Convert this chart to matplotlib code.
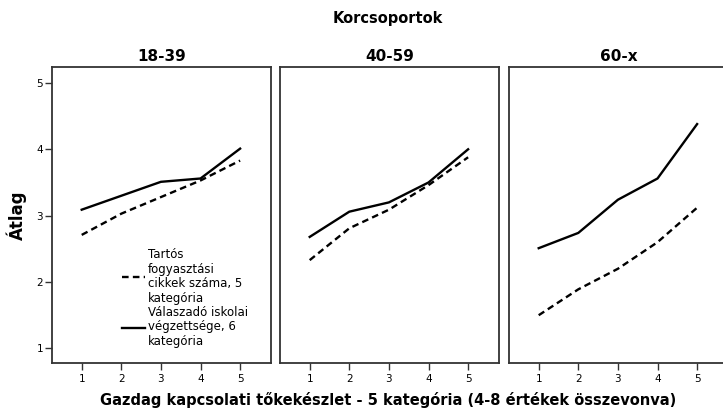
import matplotlib
matplotlib.use("Agg")
import matplotlib.pyplot as plt
from matplotlib.lines import Line2D

x_cats = [1, 2, 3, 4, 5]
groups = ["18-39", "40-59", "60-x"]
# Tartós fogyasztási cikkek száma (dashed)
durable = [
    [2.71, 3.03, 3.28, 3.53, 3.83],
    [2.33, 2.81, 3.09, 3.46, 3.88],
    [1.50, 1.89, 2.20, 2.60, 3.12],
]
# Válaszadó iskolai végzettsége (solid)
education = [
    [3.09, 3.30, 3.51, 3.56, 4.01],
    [2.68, 3.06, 3.20, 3.50, 4.00],
    [2.51, 2.74, 3.24, 3.56, 4.38],
]
y_ticks = [1, 2, 3, 4, 5]
legend_labels = ["Tartós\nfogyasztási\ncikkek száma, 5\nkategória",
                 "Válaszadó iskolai\nvégzettsége, 6\nkategória"]

W, H = 723, 413
fig = plt.figure(figsize=(W / 100, H / 100), dpi=100)

lefts = [52, 280, 509]
pw = 219
top, bottom = 67, 363
spine_col = "#333333"
axes = []
for i, g in enumerate(groups):
    ax = fig.add_axes([lefts[i] / W, (H - bottom) / H, pw / W, (bottom - top) / H])
    ax.plot(x_cats, durable[i], color="black", lw=1.7, dashes=(2.8, 1.8))
    ax.plot(x_cats, education[i], color="black", lw=1.7)
    ax.set_xlim(0.25, 5.78)
    ax.set_ylim(0.78, 5.24)
    ax.set_xticks(x_cats)
    ax.set_xticklabels([str(v) for v in x_cats], fontsize=7.5, family="DejaVu Sans")
    ax.set_yticks(y_ticks)
    if i == 0:
        ax.set_yticklabels([str(v) for v in y_ticks], fontsize=7.5)
        ax.tick_params(axis="y", length=5, width=1, color=spine_col, pad=1.5)
    else:
        ax.tick_params(axis="y", left=False, labelleft=False)
    ax.tick_params(axis="x", length=5, width=1, color=spine_col, pad=3)
    for s in ax.spines.values():
        s.set_color(spine_col)
        s.set_linewidth(1.3)
    ax.set_title(g, fontsize=11, fontweight="bold", pad=4)
    axes.append(ax)

handles = [Line2D([], [], color="black", lw=1.7, dashes=(2.8, 1.8)),
           Line2D([], [], color="black", lw=1.7)]
leg = axes[0].legend(handles, legend_labels, loc="lower left",
                     bbox_to_anchor=(0.27, 0.015), frameon=False,
                     fontsize=8.5, handlelength=2.0, handletextpad=0.2,
                     labelspacing=0.1)
for t in leg.get_texts():
    t.set_linespacing(1.15)

fig.text(388 / W, 1 - 19 / H, "Korcsoportok", ha="center", va="center",
         fontsize=10.5, fontweight="bold")
fig.text(388 / W, 1 - 400 / H,
         "Gazdag kapcsolati tőkekészlet - 5 kategória (4-8 értékek összevonva)",
         ha="center", va="center", fontsize=10.5, fontweight="bold")
fig.text(17 / W, 1 - 215 / H, "Átlag", ha="center", va="center",
         fontsize=12, fontweight="bold", rotation=90)

fig.savefig("out.png", dpi=100)
